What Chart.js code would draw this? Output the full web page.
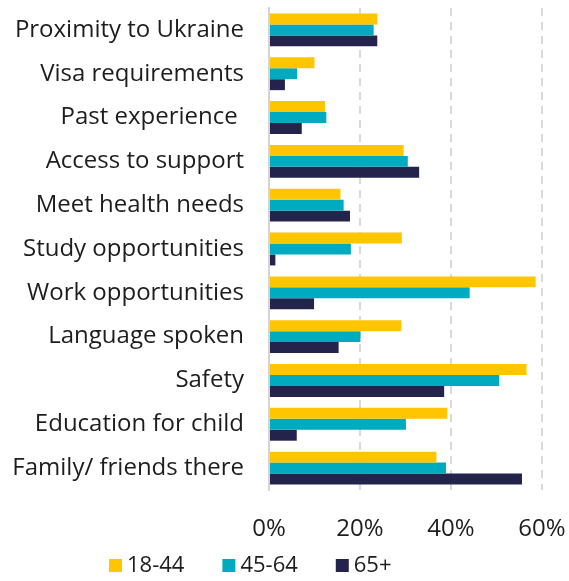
<!doctype html>
<html><head><meta charset="utf-8">
<title>Reasons for choosing a country</title>
<script src="https://cdn.jsdelivr.net/npm/chart.js"></script>
<style>
  html, body { margin: 0; padding: 0; background: #fff; }
  .box { width: 569px; height: 581px; position: relative; }
</style>
</head><body>
<div class="box"><canvas id="reasons"></canvas></div>
<script>
  const categories = [
    'Proximity to Ukraine', 'Visa requirements', 'Past experience ', 'Access to support',
    'Meet health needs', 'Study opportunities', 'Work opportunities', 'Language spoken',
    'Safety', 'Education for child', 'Family/ friends there'
  ];
  const seriesNames = ['18-44', '45-64', '65+'];
  const age18to44 = [23.8, 10.0, 12.3, 29.6, 15.7, 29.2, 58.6, 29.1, 56.6, 39.2, 36.8];
  const age45to64 = [23.0, 6.2, 12.6, 30.5, 16.4, 18.0, 44.1, 20.1, 50.6, 30.1, 38.9];
  const age65plus = [23.8, 3.5, 7.2, 33.0, 17.8, 1.4, 9.9, 15.3, 38.5, 6.1, 55.6];
  const xTicks = [0, 20, 40, 60];

  const colors = ['#FFC600', '#00AABF', '#24234B'];
  const textColor = '#1d1d1d';
  const fontFamily = '"Open Sans", Lato, sans-serif';
  const fontSize = 24;

  // legend drawn by hand so the box/text spacing stays tight
  const bottomLegend = {
    id: 'bottomLegend',
    afterDraw(chart) {
      const c = chart.ctx;
      c.save();
      c.font = '22px ' + fontFamily;
      c.textBaseline = 'middle';
      let x = 109;
      const y = 566;
      chart.data.datasets.forEach(ds => {
        c.fillStyle = ds.backgroundColor;
        c.fillRect(x, y - 7, 13, 13);
        c.fillStyle = textColor;
        c.fillText(ds.label, x + 18, y);
        x += 18 + c.measureText(ds.label).width + 38;
      });
      c.restore();
    }
  };

  new Chart(document.getElementById('reasons'), {
    type: 'bar',
    data: {
      labels: categories,
      datasets: [
        { label: seriesNames[0], data: age18to44, backgroundColor: colors[0] },
        { label: seriesNames[1], data: age45to64, backgroundColor: colors[1] },
        { label: seriesNames[2], data: age65plus, backgroundColor: colors[2] }
      ]
    },
    options: {
      indexAxis: 'y',
      responsive: true,
      maintainAspectRatio: false,
      animation: false,
      layout: { padding: { top: 8, right: 27, bottom: 40, left: 0 } },
      datasets: { bar: { barPercentage: 1, categoryPercentage: 0.75 } },
      plugins: { legend: { display: false }, tooltip: { enabled: false } },
      scales: {
        x: {
          min: 0, max: 60,
          afterBuildTicks(scale) { scale.ticks = xTicks.map(v => ({ value: v })); },
          afterFit(scale) {
            scale.height = 51;
            scale.paddingLeft = 0;
            scale.paddingRight = 0;
          },
          ticks: {
            color: textColor, padding: 25, maxRotation: 0,
            font: { family: fontFamily, size: fontSize },
            callback: v => v + '%'
          },
          grid: {
            color: ctx => ctx.tick && ctx.tick.value === 0 ? 'rgba(0,0,0,0)' : '#d9d9d9',
            lineWidth: 2, drawTicks: false
          },
          border: { display: false, dash: [8, 6] }
        },
        y: {
          afterFit(scale) {
            scale.width = 269;
            scale.paddingTop = 0;
            scale.paddingBottom = 0;
          },
          ticks: {
            color: textColor, padding: 25,
            font: { family: fontFamily, size: fontSize }
          },
          grid: { display: false, drawTicks: false },
          border: { display: true, color: '#d4d4d4', width: 2 }
        }
      }
    },
    plugins: [bottomLegend]
  });
</script>
</body></html>
